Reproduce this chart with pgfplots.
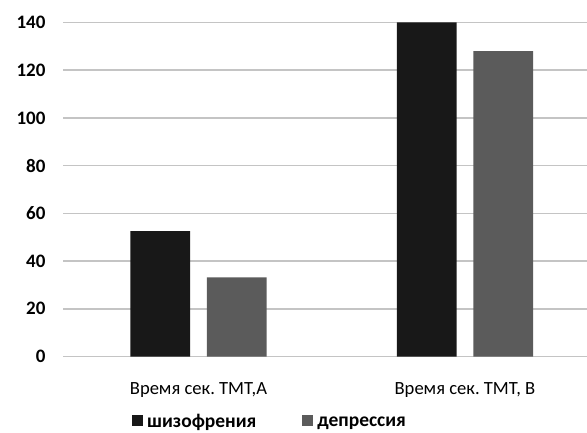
\documentclass[border=0pt]{standalone}
\usepackage{fontspec}
\setmainfont{Carlito}
\usepackage{pgfplots}
\pgfplotsset{compat=1.18}
\frenchspacing

\definecolor{barA}{HTML}{181818}
\definecolor{barB}{HTML}{5B5B5B}
\definecolor{gridc}{HTML}{C4C4C4}

\begin{document}
\begin{tikzpicture}[x=1pt,y=1pt]
\begin{axis}[
  at={(63pt,75.5pt)}, anchor=south west,
  scale only axis, width=524pt, height=334pt,
  xmin=-0.5084, xmax=1.4578,
  ymin=0, ymax=140,
  ytick={0,20,...,140},
  xtick={0,1},
  xticklabels={Время сек. ТМТ{,}А, Время сек. ТМТ{,} В},
  axis line style={draw=none},
  major tick length=0pt,
  ymajorgrids, grid style={gridc, line width=1.5pt},
  /pgf/number format/assume math mode=true,
  yticklabel style={font=\fontsize{19}{22}\selectfont\bfseries, anchor=east, xshift=-14pt},
  xticklabel style={font=\fontsize{18.6}{22}\selectfont, anchor=center, yshift=-34pt},
  clip=false,
  legend columns=2,
  legend style={draw=none, fill=none, at={(0.126,-0.196)}, anchor=west,
    font=\fontsize{19.5}{23}\selectfont\bfseries,
    nodes={inner sep=1pt},
    column sep=0pt,
    /tikz/every odd column/.append style={column sep=3pt},
    /tikz/every even column/.append style={column sep=45pt}},
  legend image code/.code={\fill (0pt,-4pt) rectangle (11pt,7pt);},
]
\addplot[ybar, bar width=0.225, bar shift=-0.1435, fill=barA, draw=none]
  coordinates {(0,52.6) (1,140)};
\addlegendentry{шизофрения}
\addplot[ybar, bar width=0.225, bar shift=0.1435, fill=barB, draw=none]
  coordinates {(0,33.2) (1,128)};
\addlegendentry{депрессия}
\end{axis}
\pgfresetboundingbox
\useasboundingbox (0,0) rectangle (587,432);
\end{tikzpicture}
\end{document}
